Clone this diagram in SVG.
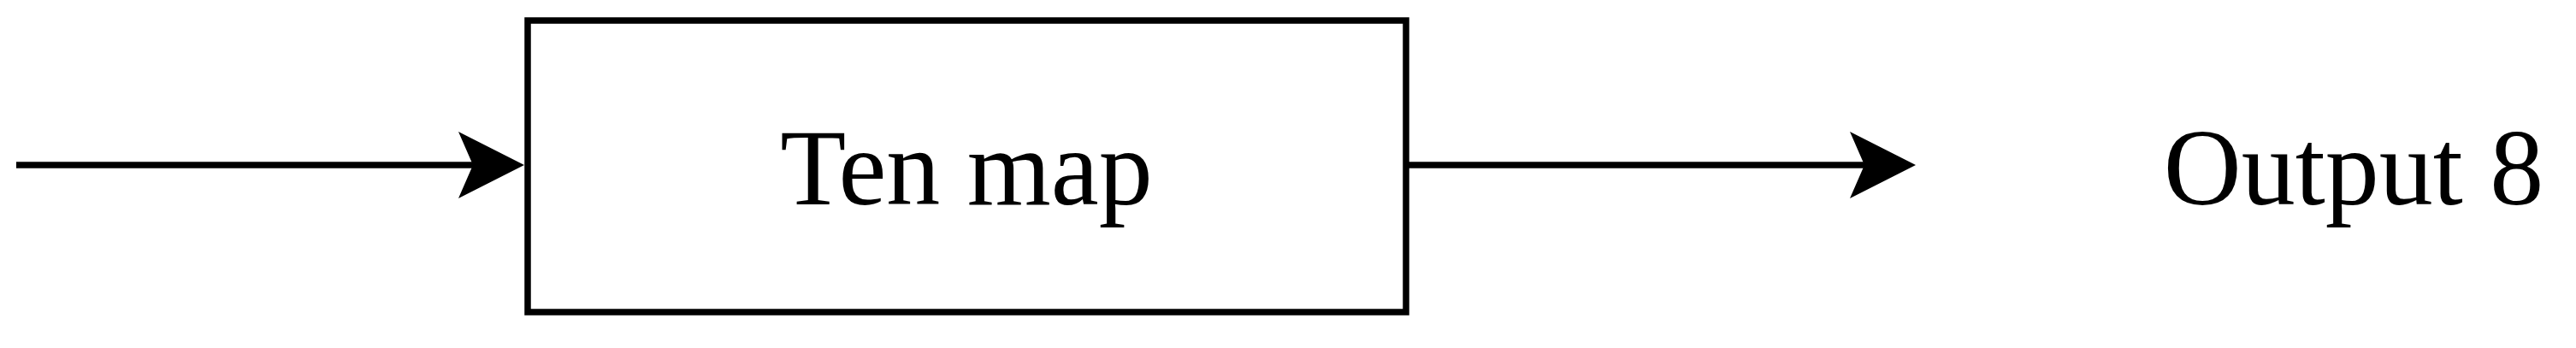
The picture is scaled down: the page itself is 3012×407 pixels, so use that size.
<svg xmlns="http://www.w3.org/2000/svg" width="3012" height="407" viewBox="0 0 3012 407">
<style>
.box{fill:#fff;stroke:#000;stroke-width:7.5}
.conn{fill:none;stroke:#000;stroke-width:7.5}
.lbl{font-family:"Liberation Serif","Times New Roman",serif;font-size:126px;fill:#000;text-anchor:middle}
</style>
<defs>
<marker id="ah" markerUnits="userSpaceOnUse" markerWidth="80" markerHeight="80" refX="17" refY="39" orient="auto" overflow="visible">
<path d="M0,0 L77,39 L0,78 L17,39 Z" fill="#000"/>
</marker>
</defs>
<rect width="3012" height="407" fill="#fff"/>
<g id="connectors">
<line class="conn" x1="19" y1="193" x2="553" y2="193" marker-end="url(#ah)"/>
<line class="conn" x1="1647" y1="193" x2="2180" y2="193" marker-end="url(#ah)"/>
</g>
<g id="ten-map">
<rect class="box" x="617" y="24" width="1027" height="341"/>
<text class="lbl" x="1130" y="239">Ten map</text>
</g>
<g id="output-8">
<text class="lbl" x="2752" y="239">Output 8</text>
</g>
</svg>
